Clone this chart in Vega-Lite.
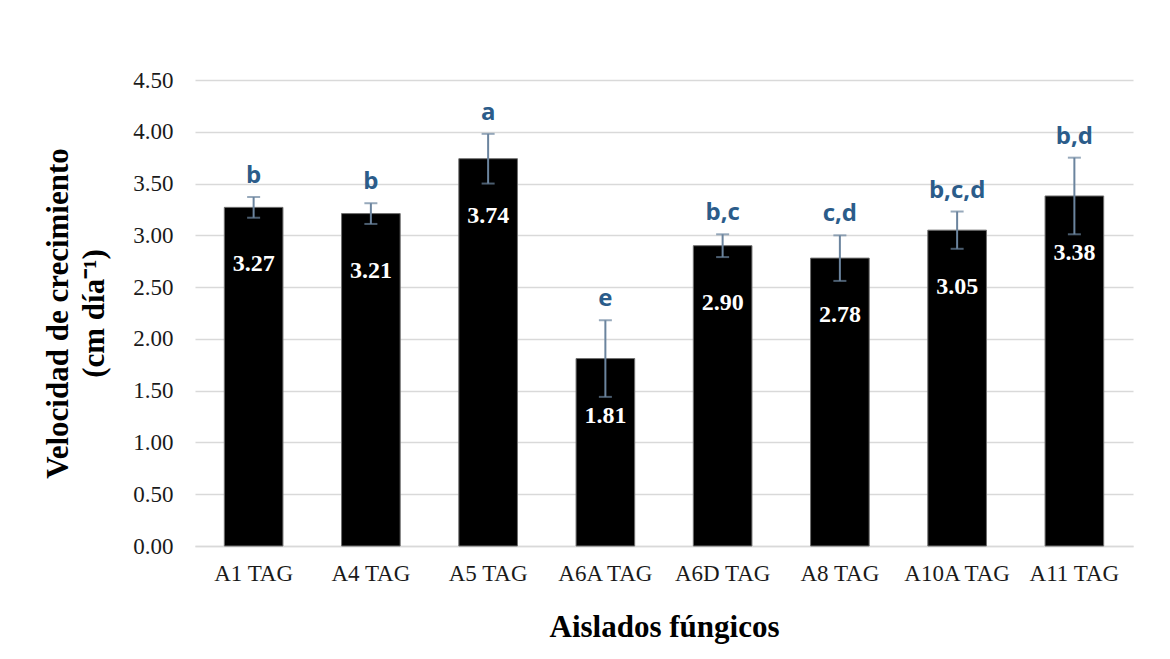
{
  "$schema": "https://vega.github.io/schema/vega-lite/v6.json",
  "width": 938,
  "height": 466,
  "autosize": {"type": "none"},
  "padding": {"left": 195, "top": 80, "right": 37, "bottom": 113},
  "background": "white",
  "data": {
    "values": [
      {"aislado": "A1 TAG", "v": 3.27, "err": 0.10, "letra": "b"},
      {"aislado": "A4 TAG", "v": 3.21, "err": 0.10, "letra": "b"},
      {"aislado": "A5 TAG", "v": 3.74, "err": 0.24, "letra": "a"},
      {"aislado": "A6A TAG", "v": 1.81, "err": 0.37, "letra": "e"},
      {"aislado": "A6D TAG", "v": 2.90, "err": 0.11, "letra": "b,c"},
      {"aislado": "A8 TAG", "v": 2.78, "err": 0.22, "letra": "c,d"},
      {"aislado": "A10A TAG", "v": 3.05, "err": 0.18, "letra": "b,c,d"},
      {"aislado": "A11 TAG", "v": 3.38, "err": 0.37, "letra": "b,d"}
    ]
  },
  "transform": [
    {"calculate": "datum.v + datum.err", "as": "hi"},
    {"calculate": "datum.v - datum.err", "as": "lo"}
  ],
  "encoding": {
    "x": {
      "field": "aislado", "type": "nominal", "sort": null,
      "scale": {"paddingInner": 0.5, "paddingOuter": 0.25},
      "axis": {
        "title": "Aislados fúngicos", "labelAngle": 0, "ticks": false,
        "labelFont": "Liberation Serif", "labelFontSize": 23, "labelColor": "#1a1a1a",
        "labelPadding": 16, "domainColor": "#d9d9d9", "domainWidth": 1.5,
        "titleFont": "Liberation Serif", "titleFontSize": 31, "titleFontWeight": "bold",
        "titleColor": "#000000", "titlePadding": 27
      }
    }
  },
  "layer": [
    {
      "mark": {"type": "bar", "color": "#000000", "stroke": "#6f6f6f", "strokeWidth": 1},
      "encoding": {
        "y": {
          "field": "v", "type": "quantitative",
          "scale": {"domain": [0, 4.5], "nice": false},
          "axis": {
            "title": ["Velocidad de crecimiento", "(cm día⁻¹)"],
            "values": [0, 0.5, 1, 1.5, 2, 2.5, 3, 3.5, 4, 4.5],
            "format": ".2f", "ticks": false, "domain": false,
            "gridColor": "#d9d9d9", "gridWidth": 1.5,
            "labelFont": "Liberation Serif", "labelFontSize": 23, "labelColor": "#1a1a1a",
            "labelPadding": 22,
            "titleFont": "Liberation Serif", "titleFontSize": 31, "titleFontWeight": "bold",
            "titleColor": "#000000", "titlePadding": 22, "titleLineHeight": 36
          }
        }
      }
    },
    {
      "mark": {"type": "rule", "color": "#6b849e", "strokeWidth": 2},
      "encoding": {
        "y": {"field": "lo", "type": "quantitative"},
        "y2": {"field": "hi"}
      }
    },
    {
      "mark": {"type": "tick", "color": "#6b849e", "thickness": 2, "size": 13},
      "encoding": {"y": {"field": "hi", "type": "quantitative"}}
    },
    {
      "mark": {"type": "tick", "color": "#6b849e", "thickness": 2, "size": 13},
      "encoding": {"y": {"field": "lo", "type": "quantitative"}}
    },
    {
      "mark": {"type": "text", "font": "Liberation Serif", "fontWeight": "bold", "fontSize": 24, "color": "#ffffff", "baseline": "middle", "dy": 57},
      "encoding": {
        "y": {"field": "v", "type": "quantitative"},
        "text": {"field": "v", "type": "quantitative", "format": ".2f"}
      }
    },
    {
      "mark": {"type": "text", "font": "Open Sans", "fontWeight": "bold", "fontSize": 24, "color": "#2b5c8a", "baseline": "middle", "dy": -21},
      "encoding": {
        "y": {"field": "hi", "type": "quantitative"},
        "text": {"field": "letra"}
      }
    }
  ],
  "config": {"view": {"stroke": null}}
}
